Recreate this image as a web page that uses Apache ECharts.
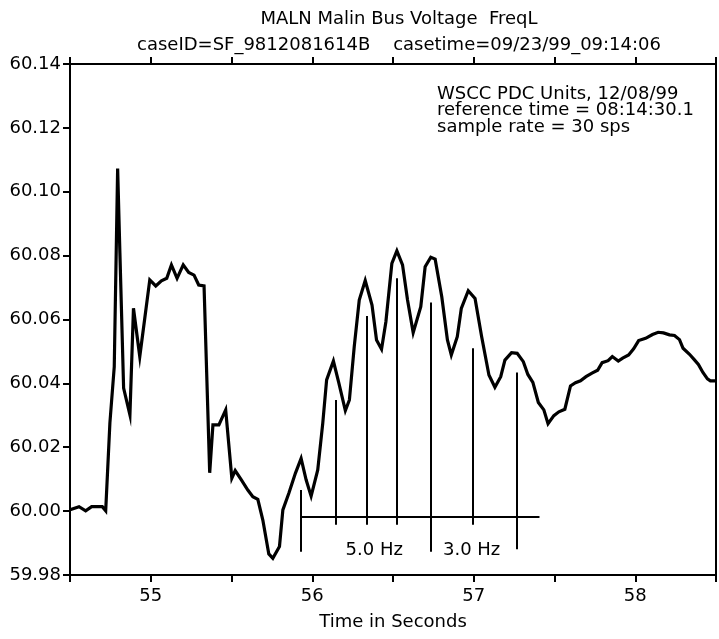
<!DOCTYPE html>
<html>
<head>
<meta charset="utf-8">
<script src="https://cdn.jsdelivr.net/npm/echarts@6/dist/echarts.min.js"></script>
<style>
  html, body { margin: 0; padding: 0; background: #fff; }
  #chart { width: 719px; height: 639px; }
</style>
</head>
<body>
<div id="chart"></div>
<script>
// Malin bus frequency record (30 samples/s), time in seconds, frequency in Hz
const times = [
  54.500, 54.556, 54.597, 54.634, 54.700, 54.721, 54.747, 54.774, 54.795, 54.809,
  54.832, 54.871, 54.893, 54.932, 54.963, 54.994, 55.031, 55.066, 55.099, 55.128,
  55.163, 55.201, 55.235, 55.268, 55.297, 55.330, 55.365, 55.385, 55.422, 55.464,
  55.502, 55.523, 55.561, 55.601, 55.632, 55.663, 55.694, 55.731, 55.756, 55.797,
  55.818, 55.855, 55.896, 55.931, 55.962, 55.993, 56.034, 56.065, 56.089, 56.131,
  56.163, 56.205, 56.230, 56.260, 56.291, 56.328, 56.370, 56.398, 56.429, 56.456,
  56.493, 56.524, 56.559, 56.590, 56.625, 56.672, 56.699, 56.734, 56.761, 56.802,
  56.837, 56.861, 56.898, 56.923, 56.966, 57.008, 57.049, 57.094, 57.131, 57.167,
  57.193, 57.234, 57.269, 57.307, 57.335, 57.366, 57.400, 57.434, 57.460, 57.496,
  57.527, 57.564, 57.599, 57.630, 57.661, 57.695, 57.732, 57.767, 57.795, 57.832,
  57.858, 57.895, 57.922, 57.959, 57.990, 58.021, 58.064, 58.107, 58.142, 58.175,
  58.212, 58.243, 58.274, 58.296, 58.336, 58.364, 58.391, 58.419, 58.447, 58.465,
  58.500
];
const freq = [
  60.0004, 60.0014, 60.0001, 60.0014, 60.0014, 60.0001, 60.0276, 60.0452, 60.1073, 60.0808,
  60.0385, 60.0301, 60.0635, 60.0484, 60.0604, 60.0724, 60.0705, 60.0721, 60.0729, 60.0771,
  60.0729, 60.0771, 60.0747, 60.0739, 60.0708, 60.0705, 60.0120, 60.0270, 60.0270, 60.0317,
  60.0103, 60.0127, 60.0098, 60.0066, 60.0045, 60.0037, 59.9972, 59.9866, 59.9852, 59.9889,
  60.0004, 60.0056, 60.0119, 60.0165, 60.0098, 60.0047, 60.0129, 60.0275, 60.0411, 60.0470,
  60.0405, 60.0315, 60.0348, 60.0515, 60.0661, 60.0722, 60.0645, 60.0536, 60.0507, 60.0593,
  60.0776, 60.0815, 60.0771, 60.0661, 60.0559, 60.0640, 60.0765, 60.0795, 60.0789, 60.0671,
  60.0536, 60.0489, 60.0546, 60.0635, 60.0690, 60.0666, 60.0546, 60.0426, 60.0388, 60.0421,
  60.0473, 60.0496, 60.0494, 60.0468, 60.0428, 60.0403, 60.0340, 60.0317, 60.0274, 60.0299,
  60.0311, 60.0319, 60.0392, 60.0402, 60.0408, 60.0421, 60.0432, 60.0441, 60.0465, 60.0471,
  60.0484, 60.0470, 60.0479, 60.0489, 60.0508, 60.0534, 60.0541, 60.0553, 60.0560, 60.0558,
  60.0552, 60.0550, 60.0537, 60.0510, 60.0491, 60.0475, 60.0459, 60.0434, 60.0414, 60.0408,
  60.0408
];

// Axis ranges and tick labels
const xMin = 54.5, xMax = 58.5, xStep = 0.5;
const yMin = 59.98, yMax = 60.14, yStep = 0.02;
const xTickLabels = ['55', '56', '57', '58'];

// Oscillation period markers (vertical bars) and the baseline they hang from
const markerTimes   = [55.931, 56.143, 56.339, 56.524, 56.734, 56.995, 57.265];
const markerTops    = [60.0066, 60.0348, 60.0611, 60.0729, 60.0653, 60.0510, 60.0434];
const markerBottoms = [59.9873, 59.9957, 59.9957, 59.9957, 59.9873, 59.9957, 59.9881];
const baselineStart = 55.931, baselineEnd = 57.407, baselineValue = 59.9983;

// Frequency labels under the markers
const hzLabelTimes = [56.384, 56.987];
const hzLabelValue = 59.9878;
const hzLabelTexts = ['5.0 Hz', '3.0 Hz'];

// Header and note text
const titleLines = ['MALN Malin Bus Voltage  FreqL',
                    'caseID=SF_9812081614B    casetime=09/23/99_09:14:06'];
const noteLines = ['WSCC PDC Units, 12/08/99',
                   'reference time = 08:14:30.1',
                   'sample rate = 30 sps'];
const xAxisTitle = 'Time in Seconds';

const FONT = '"DejaVu Sans", sans-serif';
const FS = 18;

const seriesData = times.map((t, i) => [t, freq[i]]);

const markSegments = [
  [{ coord: [baselineStart, baselineValue] }, { coord: [baselineEnd, baselineValue] }]
];
markerTimes.forEach((t, i) => {
  markSegments.push([{ coord: [t, markerTops[i]] }, { coord: [t, markerBottoms[i]] }]);
});

const chart = echarts.init(document.getElementById('chart'), null, { renderer: 'canvas' });

const axisLineStyle = { color: '#000', width: 2 };

chart.setOption({
  animation: false,
  backgroundColor: '#fff',
  textStyle: { fontFamily: FONT, color: '#000' },
  title: [
    {
      text: titleLines.join('\n'),
      left: 394, top: 1, textAlign: 'center',
      textStyle: { fontFamily: FONT, fontSize: FS, fontWeight: 'normal', color: '#000', lineHeight: 26 }
    },
    {
      text: noteLines.join('\n'),
      left: 432, top: 81,
      textStyle: { fontFamily: FONT, fontSize: FS, fontWeight: 'normal', color: '#000', lineHeight: 16.5 }
    }
  ],
  grid: { left: 70, right: 1, top: 64, bottom: 64, containLabel: false },
  xAxis: [
    {
      type: 'value', min: xMin, max: xMax, interval: xStep,
      position: 'bottom',
      name: xAxisTitle, nameLocation: 'middle', nameGap: 38,
      nameTextStyle: { fontFamily: FONT, fontSize: FS, color: '#000' },
      axisLine: { show: true, onZero: false, lineStyle: axisLineStyle },
      axisTick: { show: true, inside: false, length: 7, lineStyle: axisLineStyle },
      axisLabel: {
        fontFamily: FONT, fontSize: FS, color: '#000', margin: 12,
        formatter: v => {
          const s = String(Math.round(v));
          return (Math.abs(v - Math.round(v)) < 1e-6 && xTickLabels.includes(s)) ? s : '';
        }
      },
      splitLine: { show: false }
    },
    {
      type: 'value', min: xMin, max: xMax, interval: xStep,
      position: 'top',
      axisLine: { show: true, onZero: false, lineStyle: axisLineStyle },
      axisTick: { show: true, inside: false, length: 7, lineStyle: axisLineStyle },
      axisLabel: { show: false },
      splitLine: { show: false }
    }
  ],
  yAxis: [
    {
      type: 'value', min: yMin, max: yMax, interval: yStep,
      position: 'left',
      axisLine: { show: true, onZero: false, lineStyle: axisLineStyle },
      axisTick: { show: true, inside: false, length: 7, lineStyle: axisLineStyle },
      axisLabel: { fontFamily: FONT, fontSize: FS, color: '#000', margin: 9, formatter: v => v.toFixed(2) },
      splitLine: { show: false }
    },
    {
      type: 'value', min: yMin, max: yMax, interval: yStep,
      position: 'right',
      axisLine: { show: true, onZero: false, lineStyle: axisLineStyle },
      axisTick: { show: false },
      axisLabel: { show: false },
      splitLine: { show: false }
    }
  ],
  series: [
    {
      type: 'line',
      data: seriesData,
      showSymbol: false,
      symbol: 'none',
      lineStyle: { color: '#000', width: 3.2, join: 'miter' },
      z: 3,
      markLine: {
        silent: true,
        symbol: ['none', 'none'],
        label: { show: false },
        lineStyle: { color: '#000', width: 2, type: 'solid' },
        data: markSegments
      }
    },
    {
      type: 'scatter',
      data: hzLabelTimes.map((t, i) => ({ value: [t, hzLabelValue], name: hzLabelTexts[i] })),
      symbolSize: 0,
      silent: true,
      itemStyle: { opacity: 1, color: '#000' },
      label: {
        show: true, position: 'inside', opacity: 1,
        formatter: p => p.name,
        fontFamily: FONT, fontSize: FS, color: '#000',
        textBorderWidth: 0
      }
    }
  ]
});
</script>
</body>
</html>
